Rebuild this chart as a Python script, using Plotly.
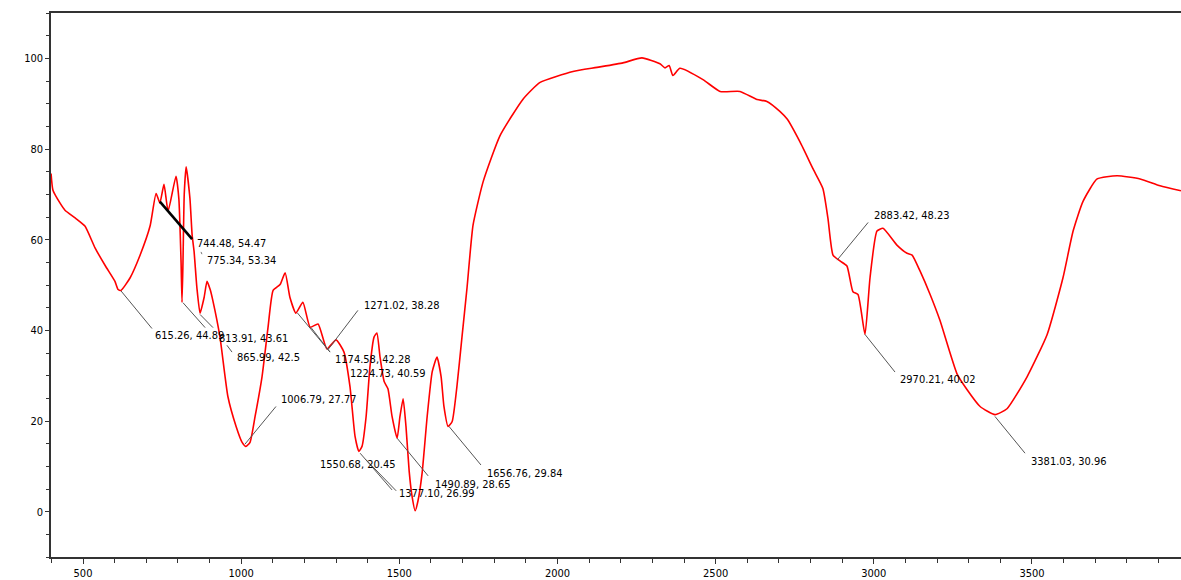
import plotly.graph_objects as go

# FTIR spectrum: wavenumber (cm-1) vs transmittance (%)
wavenumber = [399, 405, 427, 443, 475, 506, 538, 570, 601, 611, 620, 649, 680, 712, 731, 743, 756, 769,
              794, 803, 810, 813, 816, 820, 826, 838, 845, 851, 860, 870, 883, 892, 902, 911, 933, 958,
              984, 1003, 1015, 1028, 1044, 1066, 1085, 1101, 1123, 1139, 1154, 1173, 1195, 1218, 1243,
              1271, 1300, 1325, 1344, 1360, 1372, 1382, 1395, 1407, 1420, 1429, 1439, 1452, 1464, 1477,
              1493, 1502, 1512, 1521, 1531, 1540, 1550, 1559, 1572, 1588, 1604, 1619, 1632, 1641, 1654,
              1667, 1682, 1698, 1714, 1733, 1765, 1818, 1891, 1945, 2049, 2125, 2207, 2267, 2324, 2340,
              2353, 2365, 2387, 2460, 2514, 2577, 2631, 2662, 2703, 2726, 2767, 2808, 2839, 2855, 2871,
              2893, 2915, 2934, 2950, 2972, 2988, 3010, 3029, 3073, 3105, 3121, 3146, 3178, 3209, 3263,
              3295, 3336, 3383, 3421, 3484, 3548, 3598, 3630, 3661, 3706, 3769, 3842, 3905, 3971]
transmittance = [74.6, 70.9, 68.1, 66.5, 64.8, 63.0, 58.2, 54.3, 50.8, 49.0, 48.8, 51.6, 56.5, 63.0, 70.2,
                 68.1, 72.2, 66.3, 74.0, 69.0, 55.0, 46.2, 55.0, 70.0, 76.1, 69.1, 61.0, 57.5, 49.4, 43.8,
                 47.3, 50.8, 49.0, 46.4, 38.5, 25.4, 18.8, 15.3, 14.4, 15.3, 21.0, 29.8, 40.7, 48.8, 50.1,
                 52.7, 47.3, 43.8, 46.2, 40.7, 41.4, 35.9, 37.9, 35.2, 27.6, 16.6, 13.3, 14.4, 21.0, 31.9,
                 38.5, 39.4, 34.1, 28.7, 27.1, 21.0, 16.2, 21.0, 24.9, 18.8, 9.0, 3.5, 0.2, 2.4, 8.5, 21.0,
                 30.9, 34.1, 29.8, 23.2, 18.8, 19.9, 27.6, 38.5, 49.4, 63.2, 72.8, 82.9, 91.0, 94.7, 97.1,
                 98.0, 99.0, 100.1, 98.8, 97.9, 98.4, 96.2, 97.8, 95.3, 92.7, 92.7, 90.9, 90.5, 88.3, 86.6,
                 81.5, 75.6, 71.3, 64.7, 56.6, 55.3, 54.2, 48.5, 47.9, 39.1, 51.6, 61.9, 62.5, 58.8, 57.0,
                 56.6, 53.1, 47.9, 42.2, 30.4, 26.9, 23.2, 21.4, 22.7, 29.7, 39.1, 51.6, 61.9, 68.4, 73.4,
                 74.1, 73.4, 71.9, 70.8]

# Peak labels: text and text anchor (x, y)
label_text = ["615.26, 44.89", "744.48, 54.47", "775.34, 53.34", "813.91, 43.61", "865.99, 42.5",
              "1006.79, 27.77", "1271.02, 38.28", "1174.58, 42.28", "1224.73, 40.59", "1550.68, 20.45",
              "1377.10, 26.99", "1490.89, 28.65", "1656.76, 29.84", "2883.42, 48.23", "2970.21, 40.02",
              "3381.03, 30.96"]
label_x = [721, 854, 886, 924, 981, 1120, 1382, 1290, 1338, 1243, 1493, 1606, 1771, 2994, 3076, 3491]
label_y = [38.9, 59.2, 55.5, 38.2, 33.9, 24.7, 45.4, 33.6, 30.4, 10.3, 3.9, 6.1, 8.5, 65.3, 29.1, 11.1]

# Leader lines: from peak (x0, y0) to label (x1, y1)
leader_x0 = [620, 743, 873, 816, 870, 955, 1012, 1275, 1177, 1221, 1376, 1394, 1493, 1657, 2884, 2972, 3383]
leader_y0 = [48.7, 68.4, 57.3, 46.1, 43.5, 36.7, 14.9, 35.8, 43.9, 40.6, 12.9, 11.5, 16.2, 18.8, 55.5, 39.1, 21.0]
leader_x1 = [718, 845, 876, 886, 911, 971, 1110, 1369, 1281, 1281, 1477, 1490, 1591, 1758, 2982, 3067, 3478]
leader_y1 = [40.4, 60.1, 56.8, 40.6, 40.6, 35.2, 23.2, 44.4, 35.2, 35.2, 4.8, 4.6, 7.9, 10.3, 63.8, 30.8, 12.9]
leader_w = [1, 2.6, 1, 1, 1, 1, 1, 1, 1, 1, 1, 1, 1, 1, 1, 1, 1]
leader_c = ["#555555", "#000000", "#777777", "#555555", "#555555", "#555555", "#555555", "#555555",
            "#555555", "#555555", "#555555", "#555555", "#555555", "#555555", "#555555", "#555555", "#555555"]

x_range = [398.8, 3971.1]
y_range = [-10.0, 110.0]
x_ticks = [500, 1000, 1500, 2000, 2500, 3000, 3500]
y_ticks = [0, 20, 40, 60, 80, 100]

FONT = "Liberation Sans Narrow, Arial Narrow, DejaVu Sans Condensed, sans-serif"

fig = go.Figure()
fig.add_trace(go.Scatter(x=wavenumber, y=transmittance, mode="lines",
                         line=dict(color="#ff0000", width=1.6, shape="spline", smoothing=0.5),
                         showlegend=False, hoverinfo="x+y"))

for x0, y0, x1, y1, w, c in zip(leader_x0, leader_y0, leader_x1, leader_y1, leader_w, leader_c):
    fig.add_shape(type="line", x0=x0, y0=y0, x1=x1, y1=y1, xref="x", yref="y",
                  line=dict(color=c, width=w))

for t, x, y in zip(label_text, label_x, label_y):
    fig.add_annotation(x=x, y=y, text=t, showarrow=False, xanchor="left", yanchor="middle",
                       font=dict(family=FONT, size=11, color="#000000"))

fig.update_layout(
    width=1181, height=580,
    margin=dict(l=51, r=0, t=13, b=18),
    paper_bgcolor="white", plot_bgcolor="white",
    font=dict(family=FONT, size=10, color="#000000"),
)
fig.update_xaxes(range=x_range, tickvals=x_ticks, showgrid=False, zeroline=False,
                 showline=True, linecolor="#333333", linewidth=2, mirror=True,
                 ticks="outside", ticklen=5, tickcolor="#333333",
                 minor=dict(dtick=100, ticks="outside", ticklen=4, tickcolor="#333333"),
                 tickfont=dict(family=FONT, size=11, color="#000000"))
fig.update_yaxes(range=y_range, tickvals=y_ticks, showgrid=False, zeroline=False,
                 showline=True, linecolor="#333333", linewidth=1.5,
                 ticks="outside", ticklen=4, tickcolor="#333333",
                 minor=dict(dtick=5, ticks="outside", ticklen=3, tickcolor="#333333"),
                 tickfont=dict(family=FONT, size=11, color="#000000"))

fig.write_html("out.html", config={"displayModeBar": False},
               post_script="document.body.style.margin='0';document.body.style.overflow='hidden';")
